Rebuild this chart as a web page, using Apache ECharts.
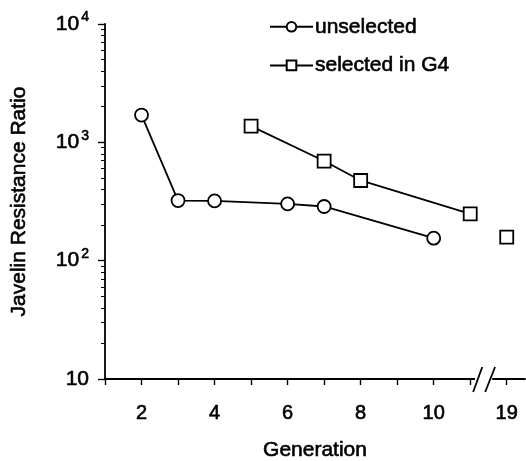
<!DOCTYPE html>
<html><head><meta charset="utf-8">
<script src="https://cdn.jsdelivr.net/npm/echarts@6/dist/echarts.min.js"></script>
<style>html,body{margin:0;padding:0;background:#fff}#c{width:526px;height:461px}</style>
</head><body><div id="c"></div>
<script>
var unselGen = [2, 3, 4, 6, 7, 10];
var unselVal = [1700, 322, 320, 302, 287, 155];
var selGen = [5, 7, 8, 11, 19];
var selVal = [1370, 695, 476, 249, 158];
var xTickLabels = [2, 4, 6, 8, 10, 19];
var yTickLabels = [10, 100, 1000, 10000];
var seriesNames = ['unselected', 'selected in G4'];

// broken axis: generations after the break (>11) are drawn at position 12
function pos(g) { return g > 11 ? 12 : g; }
function genAt(p) { return p > 11 ? 19 : p; }

var FONT = 'Liberation Sans, Arial, sans-serif';
var FW = 'normal';
var TB = {textBorderColor: '#000', textBorderWidth: 0.6};
function ts(size, extra) {
  var o = {fontSize: size, color: '#000', fontFamily: FONT, fontWeight: FW, textBorderColor: TB.textBorderColor, textBorderWidth: TB.textBorderWidth};
  for (var k in (extra || {})) o[k] = extra[k];
  return o;
}
var unselData = unselGen.map(function (g, i) { return [pos(g), unselVal[i]]; });
var selMain = [], selAfter = [];
selGen.forEach(function (g, i) { (g > 11 ? selAfter : selMain).push([pos(g), selVal[i]]); });

var minorVals = [];
for (var d = 10; d < 10000; d *= 10) for (var k = 1; k <= 10; k++) minorVals.push(d * k);

var chart = echarts.init(document.getElementById('c'), null, {renderer: 'canvas'});
var symStyle = {color: '#fff', borderColor: '#000', borderWidth: 1.8};
var lineStyle = {color: '#000', width: 1.8};
chart.setOption({
  animation: false,
  backgroundColor: '#fff',
  textStyle: {fontFamily: FONT},
  grid: {left: 105, top: 24, right: 1, bottom: 82, containLabel: false, outerBoundsMode: 'none'},
  legend: {
    orient: 'vertical', left: 269, top: 16, padding: 0, itemGap: 17, itemWidth: 43, itemHeight: 12,
    data: seriesNames,
    textStyle: ts(21, {padding: [0, 0, 0, -3]})
  },
  xAxis: {
    type: 'value', min: 1, max: 12.5, interval: 1,
    name: 'Generation', nameLocation: 'middle', nameGap: 61,
    nameTextStyle: ts(21),
    axisLine: {lineStyle: {color: '#000', width: 1.8}},
    axisTick: {show: true, length: 6, lineStyle: {color: '#000', width: 1.4},
      customValues: [1, 2, 3, 4, 5, 6, 7, 8, 9, 10, 11, 12]},
    axisLabel: Object.assign({customValues: xTickLabels.map(pos), formatter: function (v) { return String(genAt(v)); },
      margin: 24}, ts(20)),
    splitLine: {show: false}
  },
  yAxis: [{
    type: 'log', min: 10, max: 10000, logBase: 10,
    name: 'Javelin Resistance Ratio', nameLocation: 'middle', nameGap: 75,
    nameTextStyle: ts(21),
    axisLine: {show: true, lineStyle: {color: '#000', width: 1.8}},
    axisTick: {show: true, length: 7, lineStyle: {color: '#000', width: 1.4}, customValues: yTickLabels},
    axisLabel: Object.assign({
      customValues: yTickLabels, margin: 16,
      formatter: function (v) {
        var e = Math.round(Math.log10(v));
        return e === 1 ? '10' : '10{sup|' + e + '}';
      },
      rich: {sup: ts(14, {verticalAlign: 'top', padding: [0, 0, 13, 2]})}
    }, ts(21)),
    splitLine: {show: false}
  }, {
    type: 'log', min: 10, max: 10000, logBase: 10, position: 'left',
    axisLine: {show: false},
    axisTick: {show: true, length: 4, lineStyle: {color: '#000', width: 1}, customValues: minorVals},
    axisLabel: {show: false},
    splitLine: {show: false}
  }],
  series: [{
    name: seriesNames[0], type: 'line', data: unselData,
    symbol: 'circle', symbolSize: 13, showAllSymbol: true,
    lineStyle: lineStyle, itemStyle: symStyle, z: 3
  }, {
    name: seriesNames[1], type: 'line', data: selMain,
    symbol: 'rect', symbolSize: 13, showAllSymbol: true,
    lineStyle: lineStyle, itemStyle: symStyle, z: 3
  }, {
    name: seriesNames[1], type: 'line', data: selAfter,
    symbol: 'rect', symbolSize: 13, showAllSymbol: true,
    lineStyle: lineStyle, itemStyle: symStyle, z: 3
  }]
});

// axis break marks between 11 and 12
function px(v) { return chart.convertToPixel({gridIndex: 0}, [v, 10]); }
var g0 = px(11.13), g1 = px(11.6), by = g0[1];
var s1b = px(11.08)[0], s1t = px(11.33)[0], s2b = px(11.41)[0], s2t = px(11.68)[0];
chart.setOption({
  graphic: [
    {type: 'rect', shape: {x: g0[0], y: by - 3, width: g1[0] - g0[0], height: 6}, style: {fill: '#fff'}, z: 100},
    {type: 'line', shape: {x1: s1b, y1: by + 13, x2: s1t, y2: by - 12}, style: {stroke: '#000', lineWidth: 1.8}, z: 101},
    {type: 'line', shape: {x1: s2b, y1: by + 13, x2: s2t, y2: by - 12}, style: {stroke: '#000', lineWidth: 1.8}, z: 101}
  ]
});
</script></body></html>
